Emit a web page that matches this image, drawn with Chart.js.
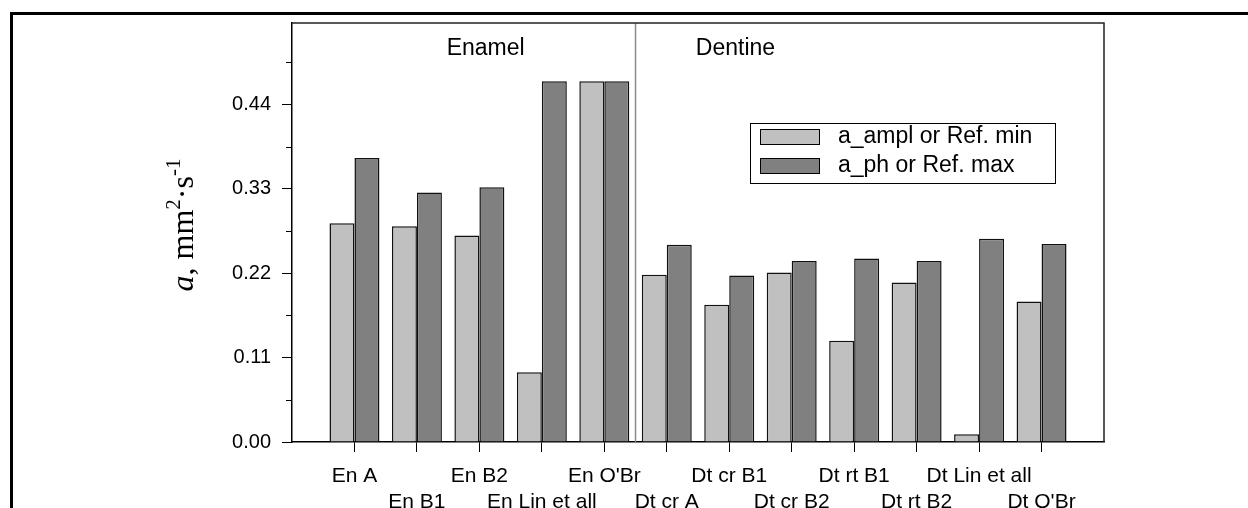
<!DOCTYPE html>
<html>
<head>
<meta charset="utf-8">
<script src="https://cdn.jsdelivr.net/npm/chart.js@4/dist/chart.umd.min.js"></script>
<style>
html,body{margin:0;padding:0;background:#fff;}
#wrap{width:1248px;height:508px;position:relative;}
</style>
</head>
<body>
<div id="wrap"><canvas id="c"></canvas></div>
<script>
// ---- data ----
const categories = ['En A','En B1','En B2','En Lin et all',"En O'Br",'Dt cr A','Dt cr B1','Dt cr B2','Dt rt B1','Dt rt B2','Dt Lin et all',"Dt O'Br"];
const aAmpl = [0.285,0.281,0.269,0.091,0.470,0.218,0.179,0.221,0.132,0.208,0.010,0.183];
const aPh   = [0.370,0.325,0.332,0.470,0.470,0.257,0.217,0.236,0.239,0.236,0.265,0.258];
const seriesNames = ['a_ampl or Ref. min','a_ph or Ref. max'];
const majorTicks = [0.00,0.11,0.22,0.33,0.44];
const minorTicks = [0.055,0.165,0.275,0.385,0.495];
const yMax = 0.546;
const groupNames = ['Enamel','Dentine'];

const labels = [''].concat(categories, ['']);
const pad = arr => [null].concat(arr, [null]);

const SANS = '"Liberation Sans", Arial, sans-serif';
const SERIF = '"Liberation Serif", "Times New Roman", serif';

const decor = {
  id: 'decor',
  beforeDraw(chart) {
    const ctx = chart.ctx;
    ctx.save();
    ctx.fillStyle = '#fff';
    ctx.fillRect(0,0,chart.width,chart.height);
    ctx.strokeStyle = '#000';
    ctx.lineWidth = 3;
    ctx.beginPath();
    ctx.moveTo(11.5, chart.height + 5);
    ctx.lineTo(11.5, 13.5);
    ctx.lineTo(chart.width + 5, 13.5);
    ctx.stroke();
    ctx.restore();
  },
  afterDatasetsDraw(chart) {
    const ctx = chart.ctx;
    const a = chart.chartArea;
    const xs = chart.scales.x, ys = chart.scales.y;
    ctx.save();
    const sx = xs.getPixelForValue(5.5);
    ctx.strokeStyle = '#8a8a8a';
    ctx.lineWidth = 1.5;
    ctx.beginPath();
    ctx.moveTo(sx, a.top);
    ctx.lineTo(sx, a.bottom);
    ctx.stroke();
    ctx.strokeStyle = '#222';
    ctx.lineWidth = 1.5;
    ctx.beginPath();
    ctx.moveTo(a.left, a.top);
    ctx.lineTo(a.right, a.top);
    ctx.lineTo(a.right, a.bottom);
    ctx.stroke();
    ctx.strokeStyle = '#000';
    ctx.lineWidth = 1;
    minorTicks.forEach(v => {
      const y = Math.round(ys.getPixelForValue(v)) + 0.5;
      ctx.beginPath();
      ctx.moveTo(a.left - 6, y);
      ctx.lineTo(a.left, y);
      ctx.stroke();
    });
    ctx.fillStyle = '#000';
    ctx.font = '23px ' + SANS;
    ctx.textAlign = 'center';
    ctx.textBaseline = 'middle';
    ctx.fillText(groupNames[0], xs.getPixelForValue(3.1), ys.getPixelForValue(0.512));
    ctx.fillText(groupNames[1], xs.getPixelForValue(7.1), ys.getPixelForValue(0.512));
    const lx = 750, ly = 123, lw = 305, lh = 60;
    ctx.fillStyle = '#fff';
    ctx.fillRect(lx, ly, lw, lh);
    ctx.strokeStyle = '#000';
    ctx.lineWidth = 1;
    ctx.strokeRect(lx + 0.5, ly + 0.5, lw, lh);
    const ds = chart.data.datasets;
    const rows = [136, 165];
    ds.forEach((d, i) => {
      ctx.fillStyle = d.backgroundColor;
      ctx.fillRect(760, rows[i] - 7, 59, 15);
      ctx.strokeStyle = '#000';
      ctx.strokeRect(760.5, rows[i] - 6.5, 59, 15);
      ctx.fillStyle = '#000';
      ctx.font = '23px ' + SANS;
      ctx.textAlign = 'left';
      ctx.textBaseline = 'middle';
      ctx.fillText(d.label, 838, rows[i] + 1);
    });
    ctx.translate(193, 225);
    ctx.rotate(-Math.PI/2);
    const parts = [
      {t:'a', f:'italic 32px ' + SERIF, dy:0},
      {t:', mm', f:'32px ' + SERIF, dy:0},
      {t:'2', f:'21px ' + SERIF, dy:-13},
      {t:'\u00B7s', f:'32px ' + SERIF, dy:0},
      {t:'-1', f:'21px ' + SERIF, dy:-13}
    ];
    let total = 0;
    parts.forEach(p => { ctx.font = p.f; p.w = ctx.measureText(p.t).width; total += p.w; });
    let x = -total/2;
    ctx.fillStyle = '#000';
    ctx.textAlign = 'left';
    ctx.textBaseline = 'alphabetic';
    parts.forEach(p => { ctx.font = p.f; ctx.fillText(p.t, x, p.dy); x += p.w; });
    ctx.restore();
  }
};

new Chart(document.getElementById('c'), {
  type: 'bar',
  data: {
    labels: labels,
    datasets: [
      {label: seriesNames[0], data: pad(aAmpl), backgroundColor: '#c0c0c0', borderColor: '#111', borderWidth: 1.5},
      {label: seriesNames[1], data: pad(aPh), backgroundColor: '#808080', borderColor: '#111', borderWidth: 1.5}
    ]
  },
  options: {
    responsive: true,
    maintainAspectRatio: false,
    animation: false,
    events: [],
    layout: {padding: {left: 0, right: 144, top: 20, bottom: 0}},
    datasets: {bar: {categoryPercentage: 0.8, barPercentage: 1.0}},
    plugins: {legend: {display: false}, tooltip: {enabled: false}},
    scales: {
      x: {
        type: 'category',
        offset: false,
        grid: {offset: false, drawOnChartArea: false, drawTicks: true, tickLength: 10,
               tickColor: c => (c.index === 0 || c.index === labels.length - 1) ? 'rgba(0,0,0,0)' : '#000', tickWidth: 1},
        border: {display: true, color: '#000', width: 1.5},
        ticks: {
          autoSkip: false, maxRotation: 0, minRotation: 0, padding: 11,
          color: '#000', font: {family: SANS, size: 21, lineHeight: 1.25},
          callback: function(v, i) {
            const l = labels[i];
            if (!l) return '';
            return (i % 2 === 1) ? l : ['', l];
          }
        },
        afterFit: s => { s.height = 66; }
      },
      y: {
        min: 0, max: yMax,
        grid: {drawOnChartArea: false, drawTicks: true, tickLength: 10, tickColor: '#000', tickWidth: 1},
        border: {display: true, color: '#000', width: 1.5},
        afterBuildTicks: s => { s.ticks = majorTicks.map(v => ({value: v})); },
        ticks: {
          padding: 11, color: '#000', font: {family: SANS, size: 20},
          callback: v => Number(v).toFixed(2)
        },
        afterFit: s => { s.width = 292; }
      }
    }
  },
  plugins: [decor]
});
</script>
</body>
</html>
